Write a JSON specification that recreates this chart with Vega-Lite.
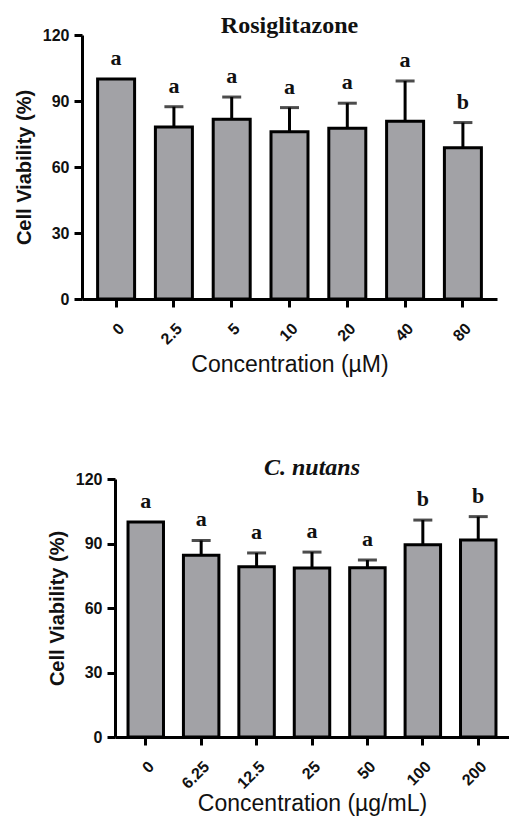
{
  "$schema": "https://vega.github.io/schema/vega-lite/v6.json",
  "background": "white",
  "padding": {"left": 13, "top": 14, "right": 0, "bottom": 0},
  "config": {
    "view": {"stroke": null},
    "axis": {
      "domainColor": "black", "domainWidth": 3, "tickColor": "black", "tickWidth": 3, "tickSize": 8,
      "grid": false, "labelColor": "#111", "labelFont": "Liberation Sans", "labelFontWeight": "bold",
      "labelFontSize": 16, "titleColor": "#111", "titleFont": "Liberation Sans"
    },
    "axisX": {"labelAngle": -45, "labelPadding": 13, "labelFontSize": 16, "titleFontSize": 23, "titleFontWeight": "normal", "titlePadding": 6},
    "axisY": {"labelPadding": 5, "titleFontSize": 20, "titleFontWeight": "bold", "titlePadding": 8}
  },
  "vconcat": [
    {"hconcat": [
    {"width": 1, "height": 1, "data": {"values": []}, "mark": {"type": "point", "opacity": 0}},
    {
      "width": 415, "height": 264,
      "title": {"text": "Rosiglitazone", "font": "Liberation Serif", "fontSize": 24, "fontWeight": "bold", "frame": "group", "baseline": "alphabetic", "offset": -30, "color": "#111"},
      "data": {"values": [
        {"conc": "0", "mean": 100, "upper": null, "letter": "a"},
        {"conc": "2.5", "mean": 78.2, "upper": 87.4, "letter": "a"},
        {"conc": "5", "mean": 81.7, "upper": 91.8, "letter": "a"},
        {"conc": "10", "mean": 76.0, "upper": 87.0, "letter": "a"},
        {"conc": "20", "mean": 77.6, "upper": 89.0, "letter": "a"},
        {"conc": "40", "mean": 80.8, "upper": 99.1, "letter": "a"},
        {"conc": "80", "mean": 68.8, "upper": 80.2, "letter": "b"}
      ]},
      "encoding": {
        "x": {"field": "conc", "type": "nominal", "sort": null, "scale": {"paddingInner": 0.36, "paddingOuter": 0.27}, "axis": {"title": "Concentration (µM)", "titlePadding": 6}}
      },
      "layer": [
        {"mark": {"type": "bar", "fill": "#a2a2a6", "stroke": "black", "strokeWidth": 3},
         "encoding": {"y": {"field": "mean", "type": "quantitative", "scale": {"domain": [0, 120], "nice": false}, "axis": {"values": [0, 30, 60, 90, 120]}, "title": "Cell Viability (%)"}}},
        {"transform": [{"filter": "datum.upper != null"}],
         "mark": {"type": "rule", "strokeWidth": 3, "color": "black"},
         "encoding": {"y": {"field": "mean", "type": "quantitative", "title": "Cell Viability (%)"}, "y2": {"field": "upper"}}},
        {"transform": [{"filter": "datum.upper != null"}],
         "mark": {"type": "tick", "size": 19, "thickness": 3, "color": "black"},
         "encoding": {"y": {"field": "upper", "type": "quantitative", "title": "Cell Viability (%)"}}},
        {"transform": [{"calculate": "datum.upper != null ? datum.upper : datum.mean", "as": "anchor"}],
         "mark": {"type": "text", "font": "Liberation Serif", "fontWeight": "bold", "fontSize": 22, "baseline": "alphabetic", "dy": -14, "color": "#111"},
         "encoding": {"y": {"field": "anchor", "type": "quantitative", "title": "Cell Viability (%)"}, "text": {"field": "letter"}}}
      ]
    }
    ], "spacing": 0},
    {"hconcat": [
    {"width": 34, "height": 1, "data": {"values": []}, "mark": {"type": "point", "opacity": 0}},
    {
      "width": 394, "height": 258,
      "title": {"text": "C. nutans", "font": "Liberation Serif", "fontSize": 24, "fontWeight": "bold", "fontStyle": "italic", "frame": "group", "baseline": "alphabetic", "offset": -28, "color": "#111"},
      "data": {"values": [
        {"conc": "0", "mean": 100, "upper": null, "letter": "a"},
        {"conc": "6.25", "mean": 84.5, "upper": 91.4, "letter": "a"},
        {"conc": "12.5", "mean": 79.2, "upper": 85.6, "letter": "a"},
        {"conc": "25", "mean": 78.6, "upper": 86.0, "letter": "a"},
        {"conc": "50", "mean": 78.7, "upper": 82.3, "letter": "a"},
        {"conc": "100", "mean": 89.4, "upper": 100.9, "letter": "b"},
        {"conc": "200", "mean": 91.6, "upper": 102.5, "letter": "b"}
      ]},
      "encoding": {
        "x": {"field": "conc", "type": "nominal", "sort": null, "scale": {"paddingInner": 0.36, "paddingOuter": 0.235}, "axis": {"title": "Concentration (µg/mL)", "titlePadding": 1}}
      },
      "layer": [
        {"mark": {"type": "bar", "fill": "#a2a2a6", "stroke": "black", "strokeWidth": 3},
         "encoding": {"y": {"field": "mean", "type": "quantitative", "scale": {"domain": [0, 120], "nice": false}, "axis": {"values": [0, 30, 60, 90, 120]}, "title": "Cell Viability (%)"}}},
        {"transform": [{"filter": "datum.upper != null"}],
         "mark": {"type": "rule", "strokeWidth": 3, "color": "black"},
         "encoding": {"y": {"field": "mean", "type": "quantitative", "title": "Cell Viability (%)"}, "y2": {"field": "upper"}}},
        {"transform": [{"filter": "datum.upper != null"}],
         "mark": {"type": "tick", "size": 19, "thickness": 3, "color": "black"},
         "encoding": {"y": {"field": "upper", "type": "quantitative", "title": "Cell Viability (%)"}}},
        {"transform": [{"calculate": "datum.upper != null ? datum.upper : datum.mean", "as": "anchor"}],
         "mark": {"type": "text", "font": "Liberation Serif", "fontWeight": "bold", "fontSize": 22, "baseline": "alphabetic", "dy": -14, "color": "#111"},
         "encoding": {"y": {"field": "anchor", "type": "quantitative", "title": "Cell Viability (%)"}, "text": {"field": "letter"}}}
      ]
    }
    ], "spacing": 0}
  ],
  "spacing": 79
}
